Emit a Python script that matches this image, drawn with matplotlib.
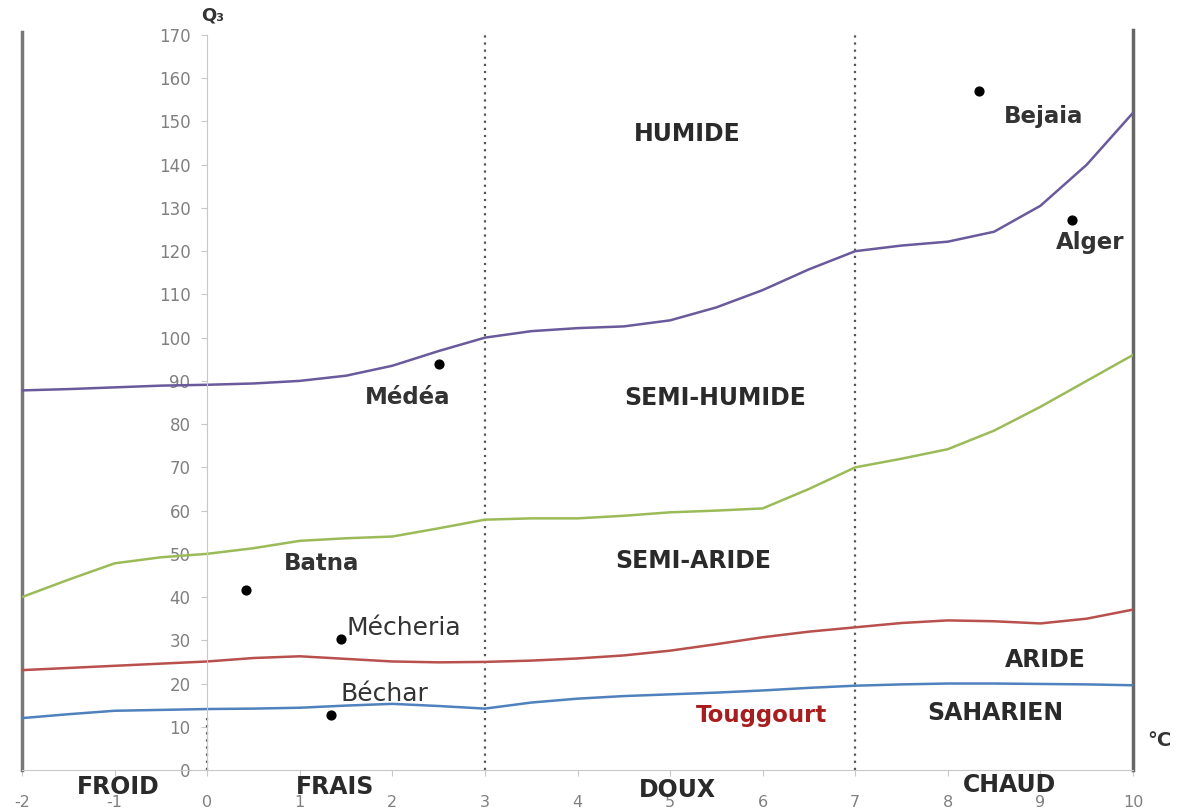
import numpy as np
from matplotlib import pyplot as plt

plt.rcParams['axes.unicode_minus'] = False
plt.rcParams['font.family'] = ['DejaVu Sans']

# température (m, °C) - pas de 0.5
temp = np.arange(-2, 10.01, 0.5)

# limites des étages bioclimatiques (Q3)
lim_humide = [87.8, 88.1, 88.5, 88.9, 89.1, 89.4, 90.0, 91.2, 93.5, 96.9, 100.0, 101.5, 102.2,
              102.6, 104.0, 107.0, 111.0, 115.8, 120.0, 121.3, 122.2, 124.5, 130.5, 140.0, 152.0]
lim_semi_humide = [40.0, 44.0, 47.8, 49.2, 50.0, 51.3, 53.0, 53.6, 54.0, 55.9, 57.9, 58.2, 58.2,
                   58.8, 59.6, 60.0, 60.5, 65.0, 70.0, 72.0, 74.2, 78.5, 84.0, 90.0, 96.0]
lim_semi_aride = [23.1, 23.6, 24.1, 24.6, 25.1, 25.9, 26.3, 25.7, 25.1, 24.9, 25.0, 25.3, 25.8,
                  26.5, 27.6, 29.1, 30.7, 32.0, 33.0, 34.0, 34.6, 34.4, 33.9, 35.0, 37.1]
lim_aride = [12.0, 12.9, 13.7, 13.9, 14.1, 14.2, 14.4, 14.9, 15.3, 14.8, 14.2, 15.6, 16.5,
             17.1, 17.5, 17.9, 18.4, 19.0, 19.5, 19.8, 20.0, 20.0, 19.9, 19.8, 19.6]

# stations
stations = ['Bejaia', 'Alger', 'Médéa', 'Batna', 'Mécheria', 'Béchar']
st_m = [8.34, 9.34, 2.5, 0.42, 1.45, 1.34]
st_q3 = [157.0, 127.3, 94.0, 41.7, 30.3, 12.7]

fig = plt.figure(figsize=(11.77, 8.08), dpi=100)
ax = fig.add_axes([22 / 1177, 38 / 808, 1111 / 1177, 735 / 808])
ax.set_xlim(-2, 10)
ax.set_ylim(0, 170)

for sp in ['top', 'right']:
    ax.spines[sp].set_visible(False)
ax.spines['left'].set_position(('data', 0))
ax.spines['left'].set_color('#c8c8c8')
ax.spines['bottom'].set_color('#c8c8c8')
ax.set_yticks(np.arange(0, 171, 10))
ax.set_xticks(np.arange(-2, 11, 1))
ax.tick_params(axis='y', direction='out', length=4, color='#c8c8c8', labelcolor='#808080',
               labelsize=12, pad=8)
ax.tick_params(axis='x', direction='out', length=4, color='#c8c8c8', labelcolor='#808080',
               labelsize=11.5, pad=14)

# cadres verticaux
ax.plot([-2, -2], [0, 170.6], color='#777777', lw=2.5, clip_on=False)
ax.plot([10, 10], [0, 171.2], color='#666666', lw=2.5, clip_on=False)
for xv, ytop in [(0, 12), (3, 170), (7, 170)]:
    ax.plot([xv, xv], [0, ytop], color='#555555', lw=1.6, ls=(0, (1, 2.2)), clip_on=False)

for vals, col in [(lim_humide, '#6a5a9c'), (lim_semi_humide, '#9bbb59'),
                  (lim_semi_aride, '#b8504d'), (lim_aride, '#4f81bd')]:
    ax.plot(temp, vals, color=col, lw=1.8, solid_joinstyle='round')

ax.scatter(st_m, st_q3, s=40, color='black', zorder=5)

bold_lab = dict(fontsize=16.5, fontweight='bold', color='#333333', ha='center', va='center')
ax.text(9.03, 151.2, 'Bejaia', **bold_lab)
ax.text(9.54, 122.0, 'Alger', **bold_lab)
ax.text(2.17, 86.1, 'Médéa', **bold_lab)
ax.text(1.24, 47.7, 'Batna', **bold_lab)
reg_lab = dict(fontsize=18, color='#333333', ha='center', va='center')
ax.text(2.12, 32.9, 'Mécheria', **reg_lab)
ax.text(1.91, 17.6, 'Béchar', **reg_lab)
ax.text(5.99, 12.5, 'Touggourt', fontsize=16.5, fontweight='bold', color='#a81e1e',
        ha='center', va='center')

zone = dict(fontsize=17, fontweight='bold', color='#2a2a2a', ha='center', va='center')
ax.text(5.19, 147.0, 'HUMIDE', **zone)
ax.text(5.49, 86.1, 'SEMI-HUMIDE', **zone)
ax.text(5.25, 48.4, 'SEMI-ARIDE', **zone)
ax.text(9.05, 25.5, 'ARIDE', **zone)
ax.text(8.51, 13.2, 'SAHARIEN', **zone)

ax.text(-0.96, -3.9, 'FROID', **zone)
ax.text(1.38, -3.9, 'FRAIS', **zone)
ax.text(5.08, -4.6, 'DOUX', **zone)
ax.text(8.67, -3.5, 'CHAUD', **zone)

ax.text(0.06, 174.5, 'Q₃', fontsize=13, fontweight='bold', color='#333333',
        ha='center', va='center')
ax.text(10.29, 6.9, '°C', fontsize=14, fontweight='bold', color='#333333',
        ha='center', va='center')

fig.savefig('out.png', dpi=100)
